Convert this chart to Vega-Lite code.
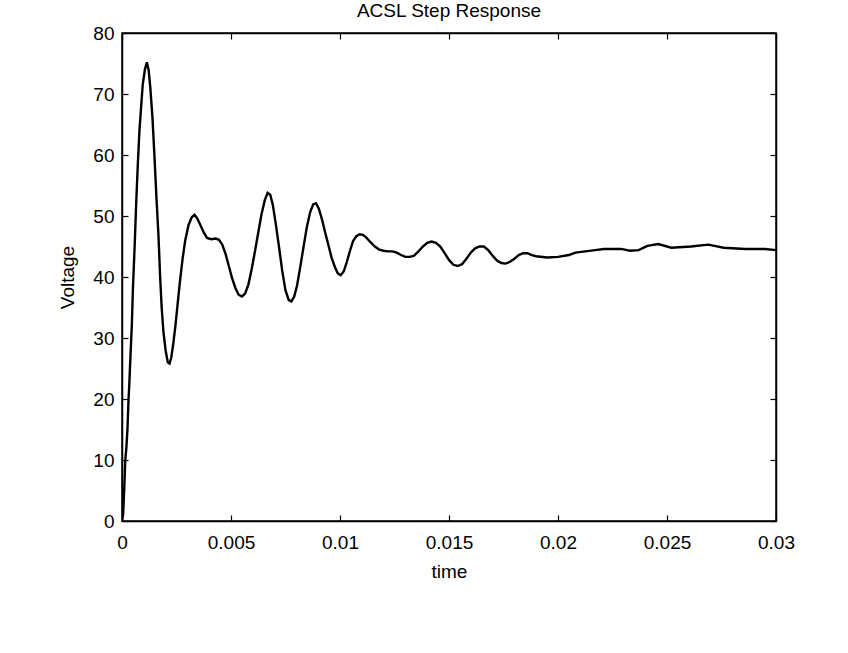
{
  "$schema": "https://vega.github.io/schema/vega-lite/v6.json",
  "width": 654,
  "height": 488,
  "autosize": {"type": "none"},
  "padding": {"left": 122, "top": 33, "right": 72, "bottom": 132},
  "background": "white",
  "title": {"text": "ACSL Step Response", "fontSize": 19, "font": "Liberation Sans", "fontWeight": "normal", "color": "black", "offset": 3},
  "config": {
    "view": {"stroke": "black", "strokeWidth": 1.5},
    "axis": {"grid": false, "domainColor": "black", "domainWidth": 1.5, "tickColor": "black", "tickWidth": 1.2, "labelColor": "black", "titleColor": "black", "labelFont": "Liberation Sans", "titleFont": "Liberation Sans", "labelFontSize": 19, "titleFontSize": 19, "titleFontWeight": "normal"}
  },
  "data": {"values": [
    {"time": 0, "voltage": 0},
    {"time": 0.00005, "voltage": 1},
    {"time": 0.0001, "voltage": 5},
    {"time": 0.00015, "voltage": 10},
    {"time": 0.0002, "voltage": 12},
    {"time": 0.00025, "voltage": 15},
    {"time": 0.0003, "voltage": 20},
    {"time": 0.00033, "voltage": 22},
    {"time": 0.0004, "voltage": 28},
    {"time": 0.00045, "voltage": 32},
    {"time": 0.0005, "voltage": 38},
    {"time": 0.00058, "voltage": 45},
    {"time": 0.00065, "voltage": 52},
    {"time": 0.00072, "voltage": 58},
    {"time": 0.0008, "voltage": 64},
    {"time": 0.00088, "voltage": 68},
    {"time": 0.00095, "voltage": 71.5},
    {"time": 0.00105, "voltage": 74},
    {"time": 0.00114, "voltage": 75.2},
    {"time": 0.00122, "voltage": 74},
    {"time": 0.0013, "voltage": 71},
    {"time": 0.0014, "voltage": 66},
    {"time": 0.0015, "voltage": 59},
    {"time": 0.00158, "voltage": 53},
    {"time": 0.00167, "voltage": 47},
    {"time": 0.00175, "voltage": 40},
    {"time": 0.00182, "voltage": 35},
    {"time": 0.0019, "voltage": 31},
    {"time": 0.002, "voltage": 28},
    {"time": 0.0021, "voltage": 26},
    {"time": 0.00218, "voltage": 25.8},
    {"time": 0.00226, "voltage": 26.8},
    {"time": 0.00235, "voltage": 29},
    {"time": 0.00245, "voltage": 32},
    {"time": 0.00255, "voltage": 35.5},
    {"time": 0.00265, "voltage": 39},
    {"time": 0.00278, "voltage": 43},
    {"time": 0.0029, "voltage": 46},
    {"time": 0.00305, "voltage": 48.5},
    {"time": 0.0032, "voltage": 49.8},
    {"time": 0.00333, "voltage": 50.2},
    {"time": 0.00345, "voltage": 49.6},
    {"time": 0.0036, "voltage": 48.5},
    {"time": 0.00375, "voltage": 47.3},
    {"time": 0.0039, "voltage": 46.4},
    {"time": 0.0041, "voltage": 46.2},
    {"time": 0.0043, "voltage": 46.3},
    {"time": 0.00445, "voltage": 46.1},
    {"time": 0.0046, "voltage": 45.3},
    {"time": 0.00475, "voltage": 43.8},
    {"time": 0.0049, "voltage": 41.8},
    {"time": 0.00505, "voltage": 39.8},
    {"time": 0.0052, "voltage": 38.2},
    {"time": 0.00535, "voltage": 37.1},
    {"time": 0.0055, "voltage": 36.8},
    {"time": 0.00565, "voltage": 37.3},
    {"time": 0.0058, "voltage": 38.8},
    {"time": 0.00595, "voltage": 41.3},
    {"time": 0.0061, "voltage": 44.2},
    {"time": 0.00625, "voltage": 47.3},
    {"time": 0.0064, "voltage": 50.3},
    {"time": 0.00655, "voltage": 52.6},
    {"time": 0.00668, "voltage": 53.8},
    {"time": 0.0068, "voltage": 53.5},
    {"time": 0.00692, "voltage": 51.8},
    {"time": 0.00705, "voltage": 48.8},
    {"time": 0.0072, "voltage": 45},
    {"time": 0.00735, "voltage": 41},
    {"time": 0.0075, "voltage": 37.8},
    {"time": 0.00765, "voltage": 36.2},
    {"time": 0.00777, "voltage": 36},
    {"time": 0.0079, "voltage": 36.8},
    {"time": 0.00803, "voltage": 38.6},
    {"time": 0.00818, "voltage": 41.7},
    {"time": 0.00833, "voltage": 45},
    {"time": 0.00848, "voltage": 48.2},
    {"time": 0.00863, "voltage": 50.6},
    {"time": 0.00877, "voltage": 51.9},
    {"time": 0.0089, "voltage": 52.1},
    {"time": 0.00903, "voltage": 51.2},
    {"time": 0.00917, "voltage": 49.5},
    {"time": 0.00932, "voltage": 47.3},
    {"time": 0.00947, "voltage": 45.2},
    {"time": 0.00962, "voltage": 43.1},
    {"time": 0.00977, "voltage": 41.6},
    {"time": 0.0099, "voltage": 40.6},
    {"time": 0.01003, "voltage": 40.3},
    {"time": 0.01017, "voltage": 40.9},
    {"time": 0.0103, "voltage": 42.3},
    {"time": 0.01045, "voltage": 44.2},
    {"time": 0.0106, "voltage": 45.9},
    {"time": 0.01075, "voltage": 46.7},
    {"time": 0.0109, "voltage": 47},
    {"time": 0.01105, "voltage": 46.9},
    {"time": 0.0112, "voltage": 46.5},
    {"time": 0.0114, "voltage": 45.7},
    {"time": 0.0116, "voltage": 45},
    {"time": 0.0118, "voltage": 44.5},
    {"time": 0.012, "voltage": 44.3},
    {"time": 0.0122, "voltage": 44.2},
    {"time": 0.0124, "voltage": 44.2},
    {"time": 0.0126, "voltage": 44},
    {"time": 0.0128, "voltage": 43.6},
    {"time": 0.013, "voltage": 43.3},
    {"time": 0.0132, "voltage": 43.3},
    {"time": 0.0134, "voltage": 43.5},
    {"time": 0.0136, "voltage": 44.2},
    {"time": 0.0138, "voltage": 45},
    {"time": 0.014, "voltage": 45.6},
    {"time": 0.0142, "voltage": 45.8},
    {"time": 0.0144, "voltage": 45.6},
    {"time": 0.0146, "voltage": 45},
    {"time": 0.0148, "voltage": 43.9},
    {"time": 0.015, "voltage": 42.8},
    {"time": 0.0152, "voltage": 42},
    {"time": 0.0154, "voltage": 41.8},
    {"time": 0.0156, "voltage": 42.1},
    {"time": 0.0158, "voltage": 43},
    {"time": 0.016, "voltage": 44},
    {"time": 0.0162, "voltage": 44.7},
    {"time": 0.0164, "voltage": 45},
    {"time": 0.0166, "voltage": 45},
    {"time": 0.0168, "voltage": 44.4},
    {"time": 0.017, "voltage": 43.5},
    {"time": 0.0172, "voltage": 42.7},
    {"time": 0.0174, "voltage": 42.3},
    {"time": 0.0176, "voltage": 42.2},
    {"time": 0.0178, "voltage": 42.5},
    {"time": 0.018, "voltage": 43},
    {"time": 0.0182, "voltage": 43.6},
    {"time": 0.0184, "voltage": 43.9},
    {"time": 0.0186, "voltage": 43.9},
    {"time": 0.0188, "voltage": 43.6},
    {"time": 0.019, "voltage": 43.4},
    {"time": 0.0195, "voltage": 43.2},
    {"time": 0.02, "voltage": 43.3},
    {"time": 0.0205, "voltage": 43.6},
    {"time": 0.0208, "voltage": 44},
    {"time": 0.0217, "voltage": 44.4},
    {"time": 0.0221, "voltage": 44.6},
    {"time": 0.0229, "voltage": 44.6},
    {"time": 0.0233, "voltage": 44.3},
    {"time": 0.0237, "voltage": 44.4},
    {"time": 0.0241, "voltage": 45.1},
    {"time": 0.0246, "voltage": 45.4},
    {"time": 0.0252, "voltage": 44.8},
    {"time": 0.0261, "voltage": 45},
    {"time": 0.0269, "voltage": 45.3},
    {"time": 0.0276, "voltage": 44.8},
    {"time": 0.0286, "voltage": 44.6},
    {"time": 0.0295, "voltage": 44.6},
    {"time": 0.03, "voltage": 44.4}
  ]},
  "layer": [
    {
      "mark": {"type": "line", "color": "black", "strokeWidth": 2.4, "clip": true},
      "encoding": {
        "x": {"field": "time", "type": "quantitative", "scale": {"domain": [0, 0.03], "nice": false},
          "axis": {"title": "time", "values": [0, 0.005, 0.01, 0.015, 0.02, 0.025, 0.03], "format": "~g", "tickSize": -6, "labelPadding": 18, "titlePadding": 10, "labelFlush": false}},
        "y": {"field": "voltage", "type": "quantitative", "scale": {"domain": [0, 80], "nice": false},
          "axis": {"title": "Voltage", "values": [0, 10, 20, 30, 40, 50, 60, 70, 80], "tickSize": -6, "labelPadding": 14, "titlePadding": 15, "labelFlush": false}}
      }
    },
    {
      "mark": {"type": "line", "opacity": 0},
      "encoding": {
        "x": {"field": "time", "type": "quantitative", "scale": {"domain": [0, 0.03], "nice": false},
          "axis": {"orient": "top", "title": null, "labels": false, "values": [0, 0.005, 0.01, 0.015, 0.02, 0.025, 0.03], "tickSize": -6}},
        "y": {"field": "voltage", "type": "quantitative", "scale": {"domain": [0, 80], "nice": false},
          "axis": {"orient": "right", "title": null, "labels": false, "values": [0, 10, 20, 30, 40, 50, 60, 70, 80], "tickSize": -6}}
      }
    }
  ],
  "resolve": {"axis": {"x": "independent", "y": "independent"}}
}
